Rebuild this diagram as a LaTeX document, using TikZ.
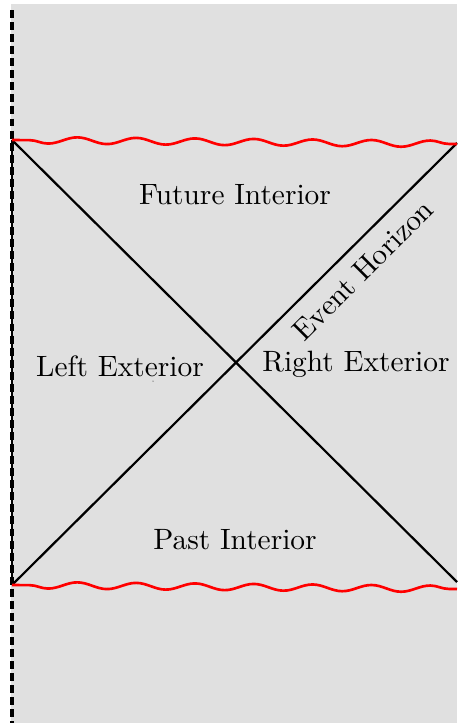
\documentclass[tikz,border=0pt]{standalone}
\usetikzlibrary{decorations.pathmorphing}
\definecolor{bgray}{RGB}{224,224,224}
\begin{document}
\begin{tikzpicture}[x=0.34pt,y=-0.34pt,
  horizon/.style={black,line width=0.75pt},
  singular/.style={red,line width=0.9pt,decorate,decoration={snake,segment length=20pt,amplitude=1.1pt,pre length=6pt,post length=0pt,mirror}},
  boundary/.style={black,line width=1.05pt,dash pattern=on 2.7pt off 1.4pt},
  region/.style={font=\normalsize,inner sep=0pt}]
\useasboundingbox (0,0) rectangle (457,723);
\fill[bgray] (11,4) rectangle (457,723);
\coordinate (tl) at (12,140);
\coordinate (bl) at (12,585);
\coordinate (tr) at (457,143);
\coordinate (br) at (457,582);
\coordinate (rtop) at (457,144);
\coordinate (rbot) at (457,589);
\coordinate (dtop) at (12,10);
\coordinate (dbot) at (12,723);
\draw[boundary] (dtop) -- (dbot);
\draw[horizon] (tl) -- (br);
\draw[horizon] (bl) -- (tr);
\draw[horizon] (tl) -- (bl);
\draw[singular] (tl) -- (rtop);
\draw[singular] (bl) -- (rbot);
\node[region] (fi) at (235,195) {Future Interior};
\node[region] (le) at (120,366) {Left Exterior};
\node[region] (re) at (356,364) {Right Exterior};
\node[region] (pi) at (235,540) {Past Interior};
\node[region,rotate=45] (eh) at (363,270) {Event Horizon};
\fill (153,381) circle (0.5);
\end{tikzpicture}
\end{document}
